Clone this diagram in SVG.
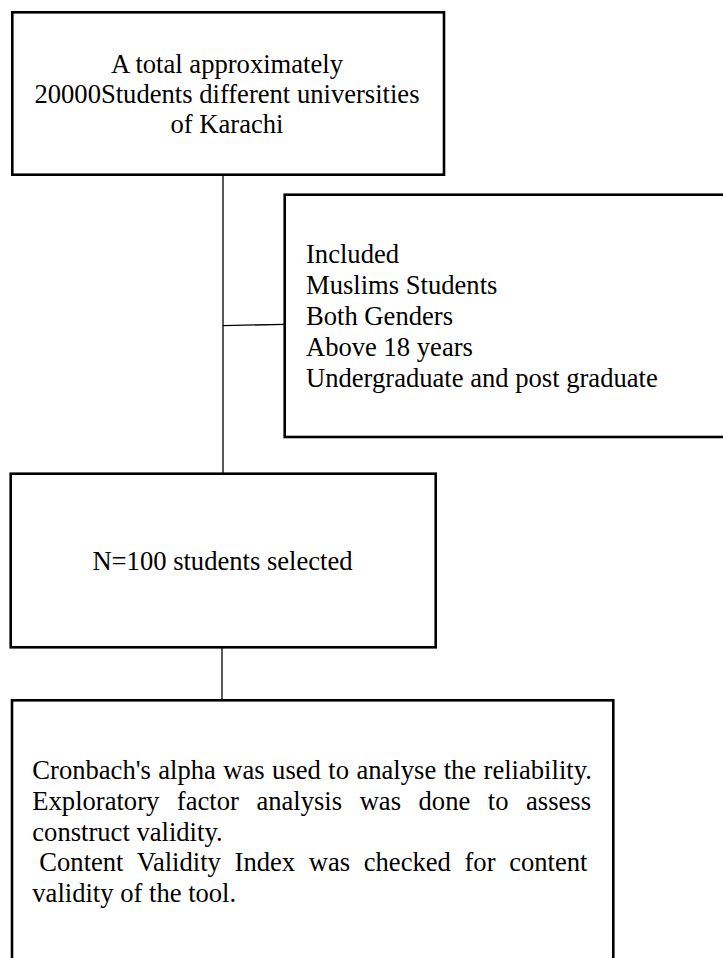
<svg xmlns="http://www.w3.org/2000/svg" width="723" height="958" viewBox="0 0 723 958">
<style>
.box{fill:#fff;stroke:#000;stroke-width:2.6}
.conn{fill:none;stroke:#000;stroke-width:1.3}
text{font-family:"Liberation Serif","Times New Roman",serif;font-size:26.6px;fill:#000}
.c{text-anchor:middle}
</style>
<rect width="723" height="958" fill="#fff"/>
<g id="connectors">
<line class="conn" x1="223" y1="173" x2="223" y2="473"/>
<line class="conn" x1="223" y1="325.7" x2="284.7" y2="324.3"/>
<line class="conn" x1="222" y1="647" x2="222" y2="700"/>
</g>
<g id="node-total">
<rect class="box" x="12.3" y="12.3" width="431.7" height="162.4"/>
<text class="c" x="227" y="73">A total approximately</text>
<text class="c" x="227" y="103">20000Students different universities</text>
<text class="c" x="227" y="133">of Karachi</text>
</g>
<g id="node-included">
<rect class="box" x="284.7" y="194.7" width="445" height="242.3"/>
<text x="306" y="263">Included</text>
<text x="306" y="294">Muslims Students</text>
<text x="306" y="325">Both Genders</text>
<text x="306" y="356">Above 18 years</text>
<text x="306" y="387">Undergraduate and post graduate</text>
</g>
<g id="node-selected">
<rect class="box" x="10.7" y="473.7" width="425" height="173.6"/>
<text class="c" x="222.5" y="570">N=100 students selected</text>
</g>
<g id="node-analysis">
<rect class="box" x="12" y="700.3" width="601.3" height="270"/>
<text x="32.3" y="779" word-spacing="0.8">Cronbach's alpha was used to analyse the reliability.</text>
<text x="32.3" y="810" word-spacing="10.9">Exploratory factor analysis was done to assess</text>
<text x="32.3" y="840.5">construct validity.</text>
<text x="39.3" y="871" word-spacing="7">Content Validity Index was checked for content</text>
<text x="32.3" y="902">validity of the tool.</text>
</g>
</svg>
